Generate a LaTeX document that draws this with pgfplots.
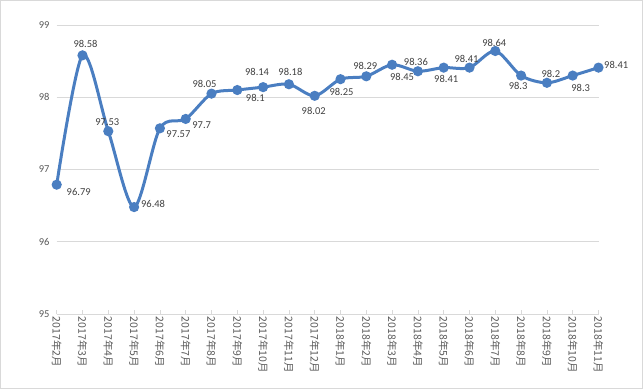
\documentclass[border=0pt]{standalone}
\usepackage{pgfplots}
\pgfplotsset{compat=1.18}
\usepackage{pgfplotstable}
\usepackage{fontspec}
\setmainfont{Carlito}
\newfontfamily\cjk{Noto Sans CJK SC}
\definecolor{lineblue}{RGB}{74,126,193}
\definecolor{gridgray}{RGB}{217,217,217}
\definecolor{txtgray}{RGB}{89,89,89}
\definecolor{lblgray}{RGB}{64,64,64}

\pgfplotstableread{
x v dx dy
0 96.79 22 -7
1 98.58 3 11
2 97.53 -1 9.5
3 96.48 19 3
4 97.57 18.5 -6
5 97.70 16 -6
6 98.05 -7 10
7 98.10 18 -8
8 98.14 -6 15
9 98.18 1.5 12
10 98.02 -1 -15
11 98.25 1 -12.5
12 98.29 -1 10
13 98.45 10 -12
14 98.36 -2 9
15 98.41 2.5 -11.4
16 98.41 -3 8.6
17 98.64 -1 7.7
18 98.30 -3 -10
19 98.20 4 9
20 98.30 8 -12.7
21 98.41 17.7 3
}\datatable

\begin{document}
\begin{tikzpicture}[x=1pt,y=1pt]
\useasboundingbox (0,0) rectangle (643,389);
\draw[gridgray] (0.5,0.5) rectangle (642.5,388.5);
\begin{axis}[
  at={(56.7pt,75pt)}, anchor=south west,
  scale only axis, width=541.8pt, height=289pt,
  xmin=0, xmax=21, ymin=95, ymax=99,
  ytick={95,96,97,98,99},
  xtick={0,...,21},
  xticklabels={2017年2月,2017年3月,2017年4月,2017年5月,2017年6月,2017年7月,2017年8月,2017年9月,2017年10月,2017年11月,2017年12月,2018年1月,2018年2月,2018年3月,2018年4月,2018年5月,2018年6月,2018年7月,2018年8月,2018年9月,2018年10月,2018年11月},
  separate axis lines,
  axis x line*=bottom, axis y line*=left,
  y axis line style={draw=none},
  x axis line style={gridgray, line width=0.8pt},
  ytick style={draw=none},
  xtick style={gridgray, line width=0.8pt},
  tick align=inside, major tick length=4pt,
  ymajorgrids, grid style={gridgray, line width=0.8pt},
  /pgf/number format/assume math mode=true,
  xticklabel style={rotate=-90, anchor=west, font=\cjk\fontsize{10.5}{11}\selectfont, text=txtgray, inner sep=2pt, xshift=0.5pt},
  yticklabel style={font=\fontsize{10.5}{12}\selectfont, text=txtgray, anchor=east, inner sep=2pt, xshift=-5pt},
  clip=false,
]
\addplot[lineblue, line width=3pt, smooth, mark=*, mark size=3.5pt,
  mark options={fill=lineblue, draw=none},
  visualization depends on={\thisrow{dx} \as \dx},
  visualization depends on={\thisrow{dy} \as \dy},
  nodes near coords,
  nodes near coords style={anchor=center, xshift=\dx pt, yshift=\dy pt, font=\fontsize{10.5}{12}\selectfont, text=lblgray, inner sep=0pt}
] table[x=x, y=v] {\datatable};
\end{axis}
\end{tikzpicture}
\end{document}
